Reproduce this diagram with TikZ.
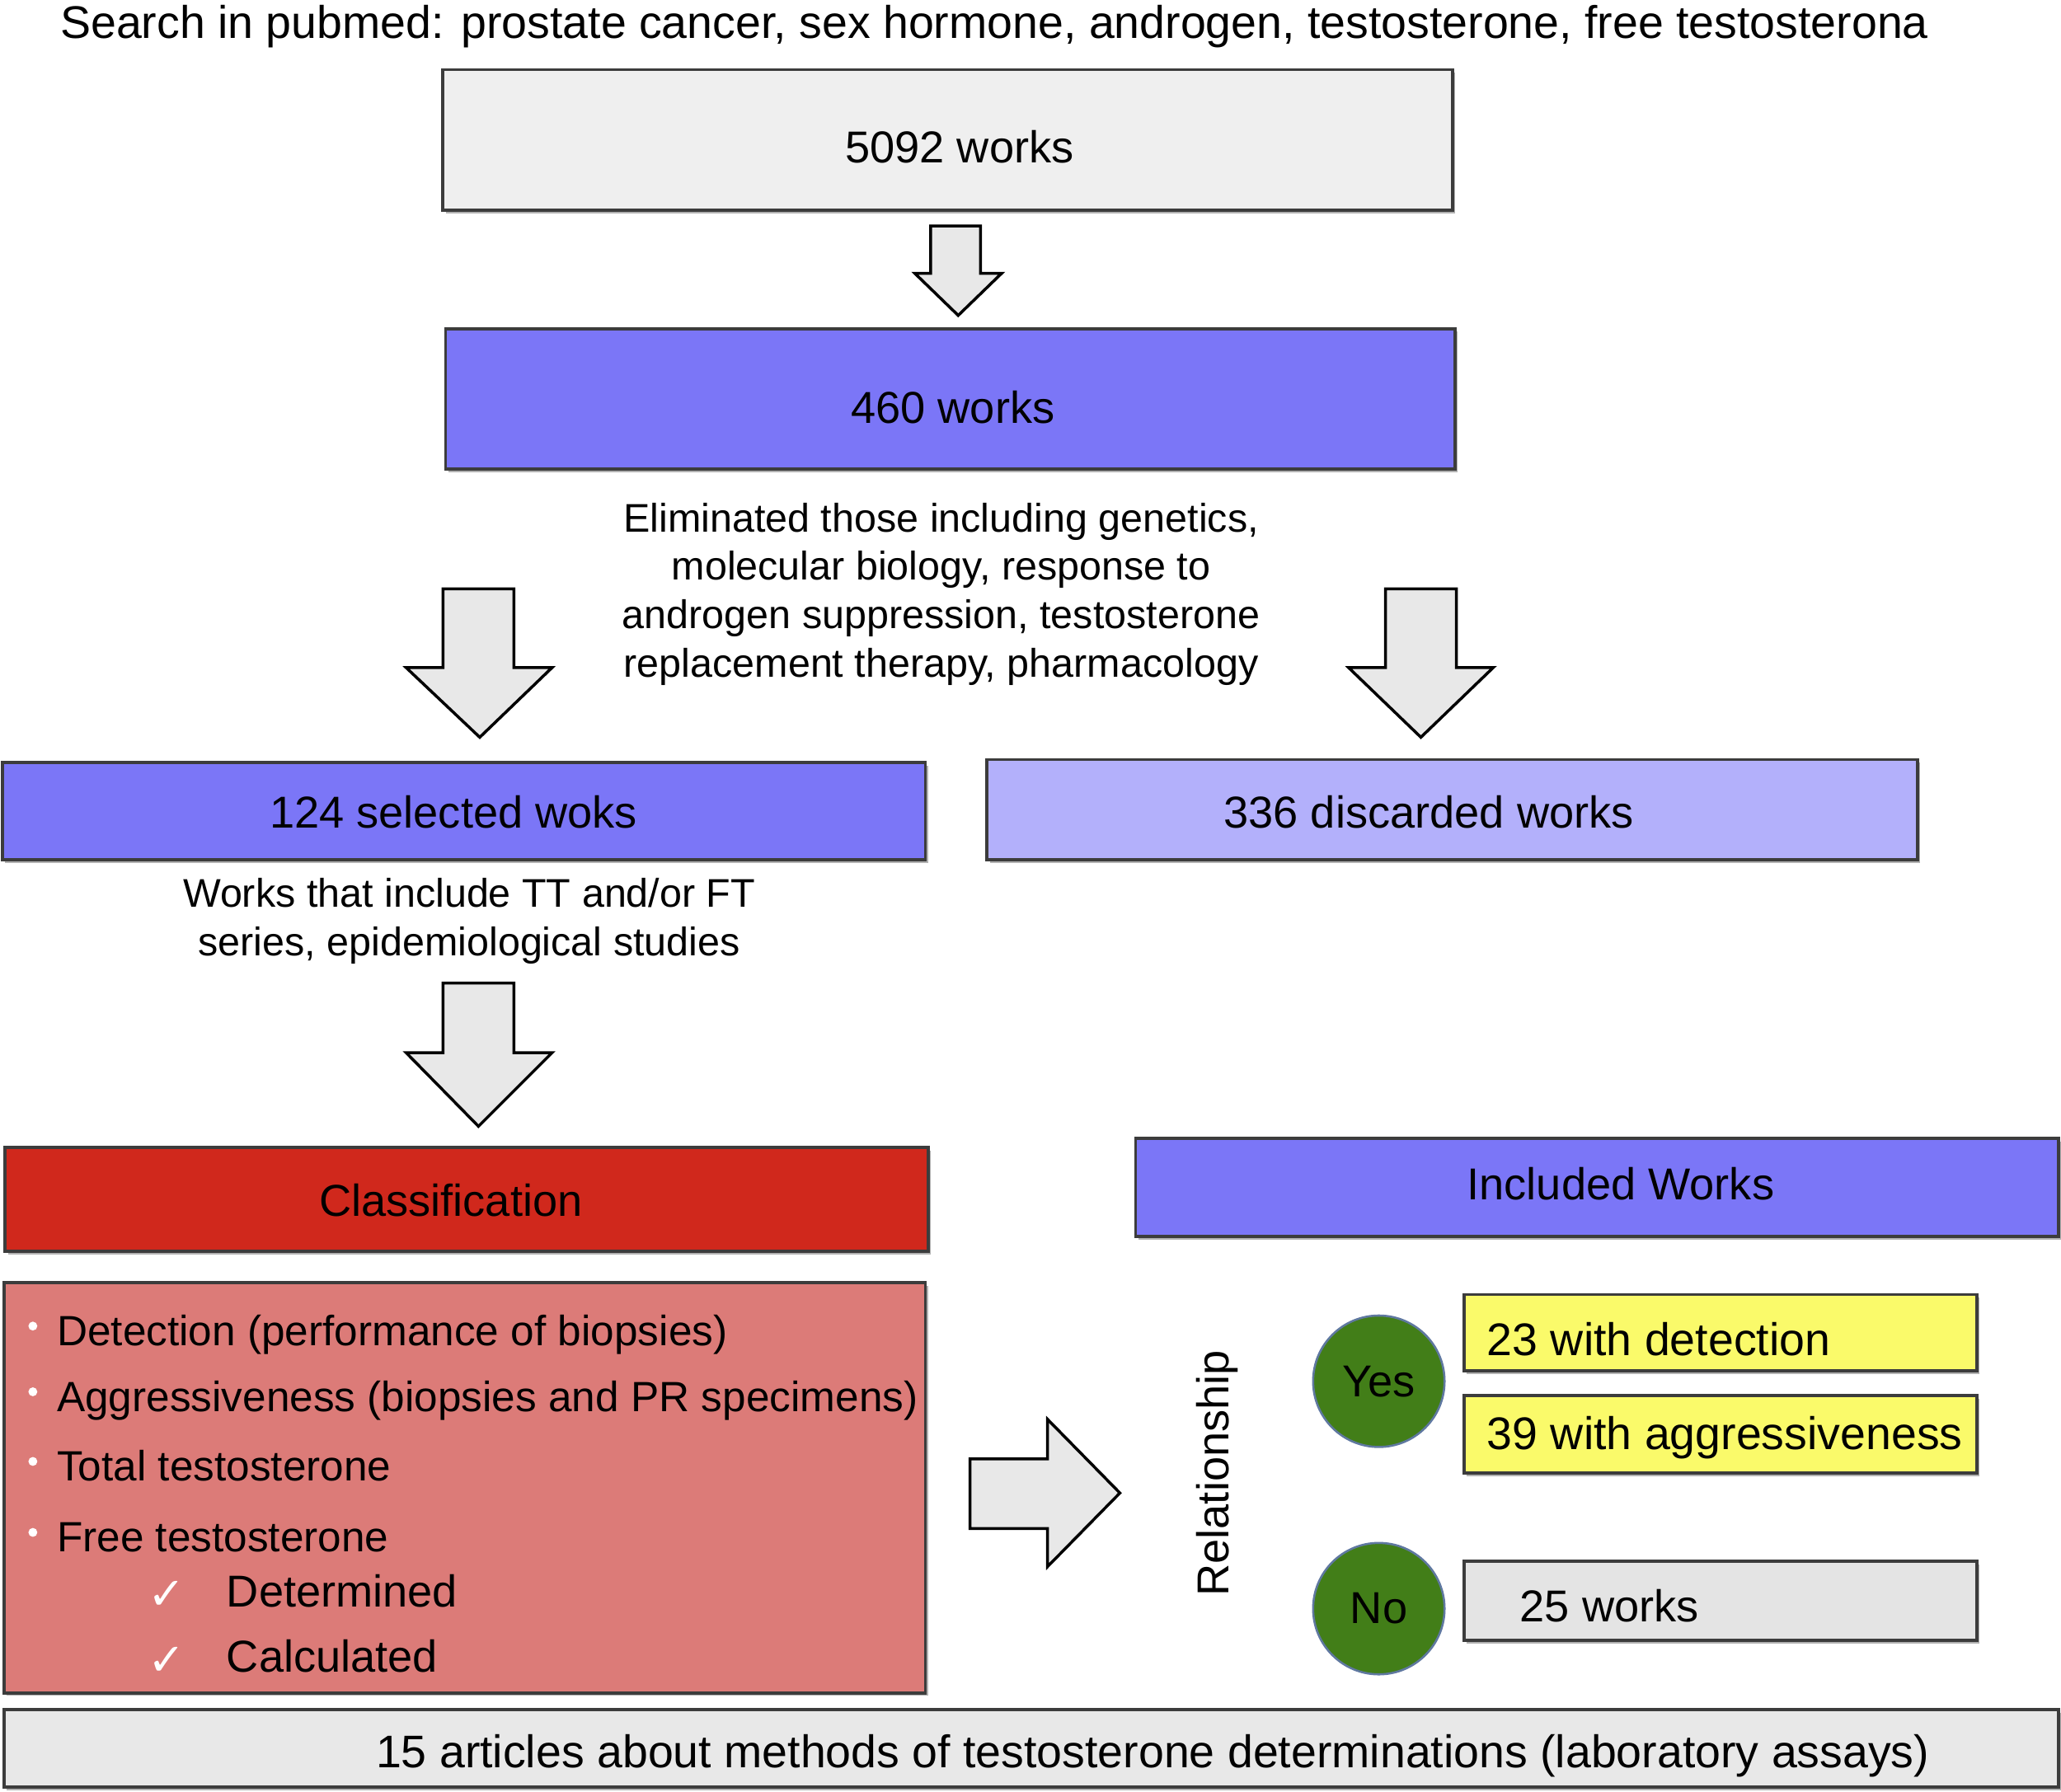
\documentclass[tikz,border=0pt]{standalone}
\usepackage{fontspec}
\setmainfont{Liberation Sans}
\newfontfamily\djv{DejaVu Sans}
\usetikzlibrary{shadows}
\definecolor{boxgray}{RGB}{239,239,239}
\definecolor{bblue}{RGB}{123,118,247}
\definecolor{lblue}{RGB}{179,176,251}
\definecolor{bred}{RGB}{208,40,28}
\definecolor{pink}{RGB}{220,123,120}
\definecolor{byellow}{RGB}{250,250,106}
\definecolor{gray25}{RGB}{228,228,228}
\definecolor{botgray}{RGB}{232,232,232}
\definecolor{arrowgray}{RGB}{232,232,232}
\definecolor{bordc}{RGB}{60,60,60}
\definecolor{ygreen}{RGB}{66,126,24}
\definecolor{circb}{RGB}{95,120,160}
\begin{document}
\begin{tikzpicture}[x=0.5pt,y=-0.5pt,
  box/.style={draw=bordc, line width=1.2pt, inner sep=0pt,
    font=\fontsize{17}{20}\selectfont,
    drop shadow={shadow xshift=1pt, shadow yshift=-1.2pt, opacity=0.3, fill=black}},
  lbl/.style={inner sep=0pt, font=\fontsize{17}{20}\selectfont},
  wide/.style={inner sep=0pt, font=\fontsize{17.4}{20}\selectfont},
  note/.style={inner sep=0pt, align=center, font=\fontsize{15.2}{18.4}\selectfont},
  item/.style={inner sep=0pt, anchor=base west, font=\fontsize{16.1}{19}\selectfont},
  subitem/.style={inner sep=0pt, anchor=base west, font=\fontsize{17}{19}\selectfont},
  bul/.style={circle, fill=white, inner sep=0pt, minimum size=3.4pt},
  chk/.style={inner sep=0pt, text=white, font=\djv\fontsize{17}{17}\selectfont},
  barrow/.style={draw=black, fill=arrowgray, line width=1.1pt, line join=miter},
  yn/.style={circle, fill=ygreen, draw=circb, line width=0.8pt, minimum size=50pt, inner sep=0pt,
    font=\fontsize{17}{20}\selectfont}
]
\useasboundingbox (0,0) rectangle (1568,1363);

% title
\node[wide] (title) at (756.5,20) {Search in pubmed: prostate cancer, sex hormone, androgen, testosterone, free testosterona};

% 5092 works
\node[box, fill=boxgray, minimum width=384pt, minimum height=53.5pt] (n5092) at (721,106.5) {};
\node[lbl] (t5092) at (730,112) {5092 works};

% small arrow
\draw[barrow] (708,172) -- (746,172) -- (746,208) -- (762,208) -- (729,240) -- (696,208) -- (708,208) -- cycle;

% 460 works
\node[box, fill=bblue, minimum width=384pt, minimum height=53.5pt] (n460) at (723,303.5) {};
\node[lbl] (t460) at (725,310) {460 works};

% elimination note
\node[note] (elim) at (716,452) {Eliminated those including genetics,\\molecular biology, response to\\androgen suppression, testosterone\\replacement therapy, pharmacology};

% two big arrows
\draw[barrow] (337,448) -- (391,448) -- (391,508) -- (420,508) -- (365,561) -- (309,508) -- (337,508) -- cycle;
\draw[barrow] (1054,448) -- (1108,448) -- (1108,508) -- (1136,508) -- (1081,561) -- (1026,508) -- (1054,508) -- cycle;

% selected / discarded
\node[box, fill=bblue, minimum width=351pt, minimum height=37pt] (sel) at (353,617) {};
\node[lbl] (tsel) at (345,618) {124 selected woks};
\node[box, fill=lblue, minimum width=354pt, minimum height=38pt] (dis) at (1105,616) {};
\node[lbl] (tdis) at (1087,618) {336 discarded works};

% works note
\node[note] (works) at (357,701) {Works that include TT and/or FT\\series, epidemiological studies};

% arrow 3
\draw[barrow] (337,748) -- (391,748) -- (391,801) -- (420,801) -- (364,857) -- (309,801) -- (337,801) -- cycle;

% classification
\node[box, fill=bred, minimum width=351pt, minimum height=39.5pt] (cls) at (355,912.5) {};
\node[lbl] (tcls) at (343,913) {Classification};

% red list box
\node[box, fill=pink, minimum width=350.5pt, minimum height=156pt] (list) at (353.5,1132) {};
\node[bul] (b1) at (25,1009) {};
\node[item] (i1) at (43,1024) {Detection (performance of biopsies)};
\node[bul] (b2) at (25,1059) {};
\node[item] (i2) at (43,1074) {Aggressiveness (biopsies and PR specimens)};
\node[bul] (b3) at (25,1112) {};
\node[item] (i3) at (43,1127) {Total testosterone};
\node[bul] (b4) at (25,1166) {};
\node[item] (i4) at (43,1181) {Free testosterone};
\node[chk] (c1) at (127,1214) {✓};
\node[subitem] (i5) at (172,1223) {Determined};
\node[chk] (c2) at (127,1264) {✓};
\node[subitem] (i6) at (172,1272) {Calculated};

% right block arrow
\draw[barrow] (738,1110) -- (797,1110) -- (797,1080) -- (852,1136) -- (797,1192) -- (797,1163) -- (738,1163) -- cycle;

% included works
\node[box, fill=bblue, minimum width=351pt, minimum height=37.5pt] (inc) at (1215,903.5) {};
\node[lbl] (tinc) at (1233,901) {Included Works};

% relationship
\node[lbl, rotate=90] (rel) at (926,1121) {Relationship};

% yes / no
\node[yn] (yes) at (1049,1051) {Yes};
\node[yn] (no) at (1049,1224) {No};

\node[box, fill=byellow, minimum width=195pt, minimum height=29pt] (y1) at (1309,1014) {};
\node[wide, anchor=west] (ty1) at (1131,1019) {23 with detection};
\node[box, fill=byellow, minimum width=195pt, minimum height=29.5pt] (y2) at (1309,1091.5) {};
\node[wide, anchor=west] (ty2) at (1131,1094) {39 with aggressiveness};
\node[box, fill=gray25, minimum width=195pt, minimum height=30pt] (g25) at (1309,1218) {};
\node[lbl, anchor=west] (tg25) at (1156,1222) {25 works};

% bottom
\node[box, fill=botgray, minimum width=781.5pt, minimum height=29.5pt] (bot) at (784.5,1330.5) {};
\node[wide] (tbot) at (877,1336) {15 articles about methods of testosterone determinations (laboratory assays)};
\end{tikzpicture}
\end{document}
